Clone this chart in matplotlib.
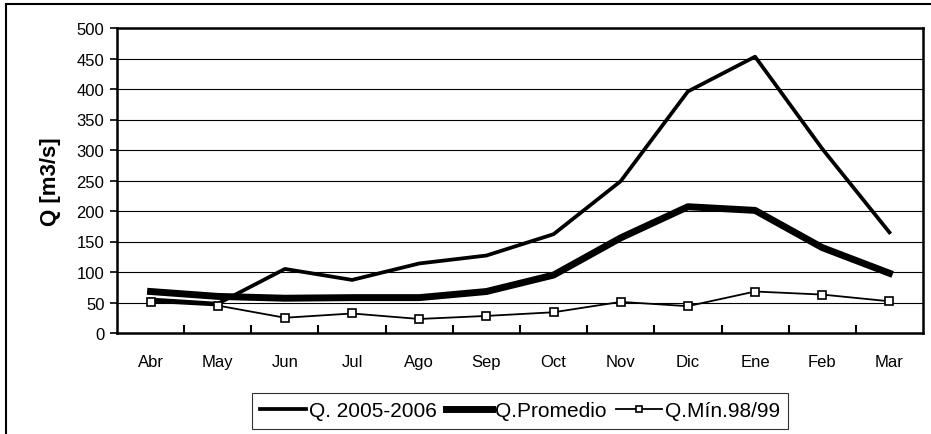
import matplotlib
matplotlib.use("Agg")
import matplotlib.pyplot as plt
from matplotlib.patches import Rectangle
import numpy as np

plt.rcParams['font.family'] = ['Liberation Sans', 'DejaVu Sans']

months = ["Abr", "May", "Jun", "Jul", "Ago", "Sep", "Oct", "Nov", "Dic", "Ene", "Feb", "Mar"]
q_2005_2006 = [55, 48, 105, 87, 114, 127, 162, 249, 396, 453, 302, 165]
q_promedio = [68, 60, 57, 58, 58, 68, 95, 156, 207, 201, 140, 98]
q_min_98_99 = [51, 45, 25, 32, 23, 28, 34, 51, 44, 68, 63, 52]
y_ticks = [0, 50, 100, 150, 200, 250, 300, 350, 400, 450, 500]

W, H = 931, 435
fig = plt.figure(figsize=(W / 100, H / 100), dpi=100)

# outer chart frame
fig.add_artist(Rectangle((6 / W, -0.1), 1.2, (H - 5) / H + 0.1, transform=fig.transFigure,
                         fill=False, edgecolor='black', linewidth=1.5))

left, right, top, bottom = 117, 923, 29, 334
ax = fig.add_axes([left / W, 1 - bottom / H, (right - left) / W, (bottom - top) / H])

x = np.arange(len(months))
ax.plot(x, q_2005_2006, color='black', linewidth=2.7, label='Q. 2005-2006')
ax.plot(x, q_promedio, color='black', linewidth=5.0, label='Q.Promedio')
ax.plot(x, q_min_98_99, color='black', linewidth=1.3, marker='s', markersize=5.5,
        markerfacecolor='white', markeredgecolor='black', markeredgewidth=1.2, label='Q.Mín.98/99')

ax.set_xlim(-0.5, len(months) - 0.5)
ax.set_ylim(0, 500)
ax.set_yticks(y_ticks)
ax.set_yticklabels([str(v) for v in y_ticks], fontsize=12)
ax.set_xticks(x)
ax.set_xticklabels(months, fontsize=12)
ax.tick_params(axis='x', which='major', length=0, pad=15)
ax.set_xticks(np.arange(0.5, len(months) - 1, 1), minor=True)
ax.tick_params(axis='x', which='minor', direction='in', length=6, width=1.5)
ax.tick_params(axis='y', direction='out', length=5, width=1.2, pad=4)

for v in y_ticks[1:-1]:
    ax.axhline(v, color='black', linewidth=0.8, zorder=0)

for s in ax.spines.values():
    s.set_linewidth(1.8)

ax.set_ylabel('Q [m3/s]', fontsize=16, fontweight='bold', labelpad=11)

leg = fig.legend(loc='center', bbox_to_anchor=(520 / W, 1 - 412 / H), ncol=3, fontsize=15,
                 frameon=True, fancybox=False, edgecolor='black', handlelength=2.2,
                 handletextpad=0.15, columnspacing=0.45, borderpad=0.4, markerscale=0.8)
leg.get_frame().set_linewidth(0.8)

fig.savefig('out.png', dpi=100)
